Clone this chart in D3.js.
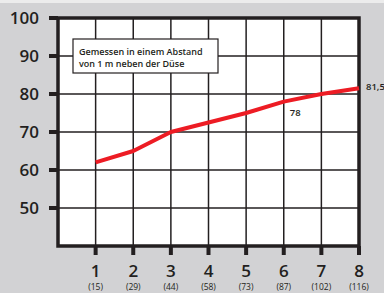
<meta charset="utf-8">
<title>Schallpegel</title>
<script src="https://d3js.org/d3.v7.min.js"></script>
<style>
  body { margin: 0; background: #d2d2d4; }
  svg { display: block; font-family: "Open Sans", "Noto Sans", sans-serif; }
</style>
<body>
<svg width="384" height="293"></svg>
<script>
  // distance steps with the value in brackets underneath
  const steps = [1, 2, 3, 4, 5, 6, 7, 8]
  const subLabels = ['(15)', '(29)', '(44)', '(58)', '(73)', '(87)', '(102)', '(116)']
  const values = [62, 65, 70, 72.5, 75, 78, 80, 81.5]
  const yTicks = [50, 60, 70, 80, 90, 100]
  const noteLines = ['Gemessen in einem Abstand', 'von 1 m neben der Düse']
  const callouts = [{ i: 5, text: '78' }, { i: 7, text: '81,5' }]

  const svg = d3.select('svg')
  const ink = '#231f20'

  const x = d3.scaleLinear().domain([0, 8]).range([58, 359])
  const y = d3.scaleLinear().domain([40, 100]).range([246, 18])

  // thin strip on top
  svg.append('rect').attr('x', 0).attr('y', 0).attr('width', 384).attr('height', 3).attr('fill', '#ececec')

  // plot area
  svg.append('rect')
    .attr('x', x(0)).attr('y', y(100))
    .attr('width', x(8) - x(0)).attr('height', y(40) - y(100))
    .attr('fill', '#fff')

  // grid
  const grid = svg.append('g').attr('stroke', ink).attr('stroke-width', 1.5)
  grid.selectAll('.v').data(steps.slice(0, -1)).join('line')
    .attr('x1', d => x(d)).attr('x2', d => x(d))
    .attr('y1', y(100)).attr('y2', y(40))
  grid.selectAll('.h').data(yTicks.slice(0, -1)).join('line')
    .attr('y1', d => y(d)).attr('y2', d => y(d))
    .attr('x1', x(0)).attr('x2', x(8))

  // frame
  svg.append('rect')
    .attr('x', x(0)).attr('y', y(100))
    .attr('width', x(8) - x(0)).attr('height', y(40) - y(100))
    .attr('fill', 'none').attr('stroke', ink).attr('stroke-width', 3.5)

  // y axis ticks + labels
  const yAxis = svg.append('g')
  yAxis.selectAll('line').data(yTicks).join('line')
    .attr('x1', x(0) - 9).attr('x2', x(0))
    .attr('y1', d => y(d)).attr('y2', d => y(d))
    .attr('stroke', ink).attr('stroke-width', 4)
  yAxis.selectAll('text').data(yTicks).join('text')
    .attr('x', 39).attr('y', d => y(d) + 6)
    .attr('text-anchor', 'end')
    .attr('font-size', 17).attr('font-weight', 600).attr('fill', ink)
    .text(d => d)

  // x axis ticks + labels
  const xAxis = svg.append('g')
  xAxis.selectAll('line').data(steps).join('line')
    .attr('x1', d => x(d)).attr('x2', d => x(d))
    .attr('y1', y(40)).attr('y2', y(40) + 9)
    .attr('stroke', ink).attr('stroke-width', 4)
  xAxis.selectAll('text.n').data(steps).join('text')
    .attr('class', 'n')
    .attr('x', d => x(d)).attr('y', 277)
    .attr('text-anchor', 'middle')
    .attr('font-size', 17).attr('font-weight', 600).attr('fill', ink)
    .text(d => d)
  xAxis.selectAll('text.s').data(steps).join('text')
    .attr('class', 's')
    .attr('x', d => x(d)).attr('y', 290)
    .attr('text-anchor', 'middle')
    .attr('font-size', 8.5).attr('fill', ink)
    .text((d, i) => subLabels[i])

  // note box
  svg.append('rect')
    .attr('x', 73).attr('y', 39).attr('width', 145).attr('height', 34)
    .attr('fill', '#fff').attr('stroke', ink).attr('stroke-width', 1.2)
  svg.selectAll('text.note').data(noteLines).join('text')
    .attr('class', 'note')
    .attr('x', 79).attr('y', (d, i) => 55 + i * 12)
    .attr('font-size', 9).attr('font-weight', 600).attr('fill', ink)
    .text(d => d)

  // series line
  const line = d3.line().x((d, i) => x(steps[i])).y(d => y(d))
  svg.append('path')
    .attr('d', line(values))
    .attr('fill', 'none').attr('stroke', '#ed1c24')
    .attr('stroke-width', 4).attr('stroke-linejoin', 'round')

  // value callouts
  svg.selectAll('text.call').data(callouts).join('text')
    .attr('class', 'call')
    .attr('x', d => d.i === 7 ? x(steps[d.i]) + 7 : x(steps[d.i]) + 6)
    .attr('y', d => d.i === 7 ? y(values[d.i]) + 2 : y(values[d.i]) + 14)
    .attr('font-size', 9.5).attr('font-weight', 600).attr('fill', ink)
    .text(d => d.text)
</script>
</body>
